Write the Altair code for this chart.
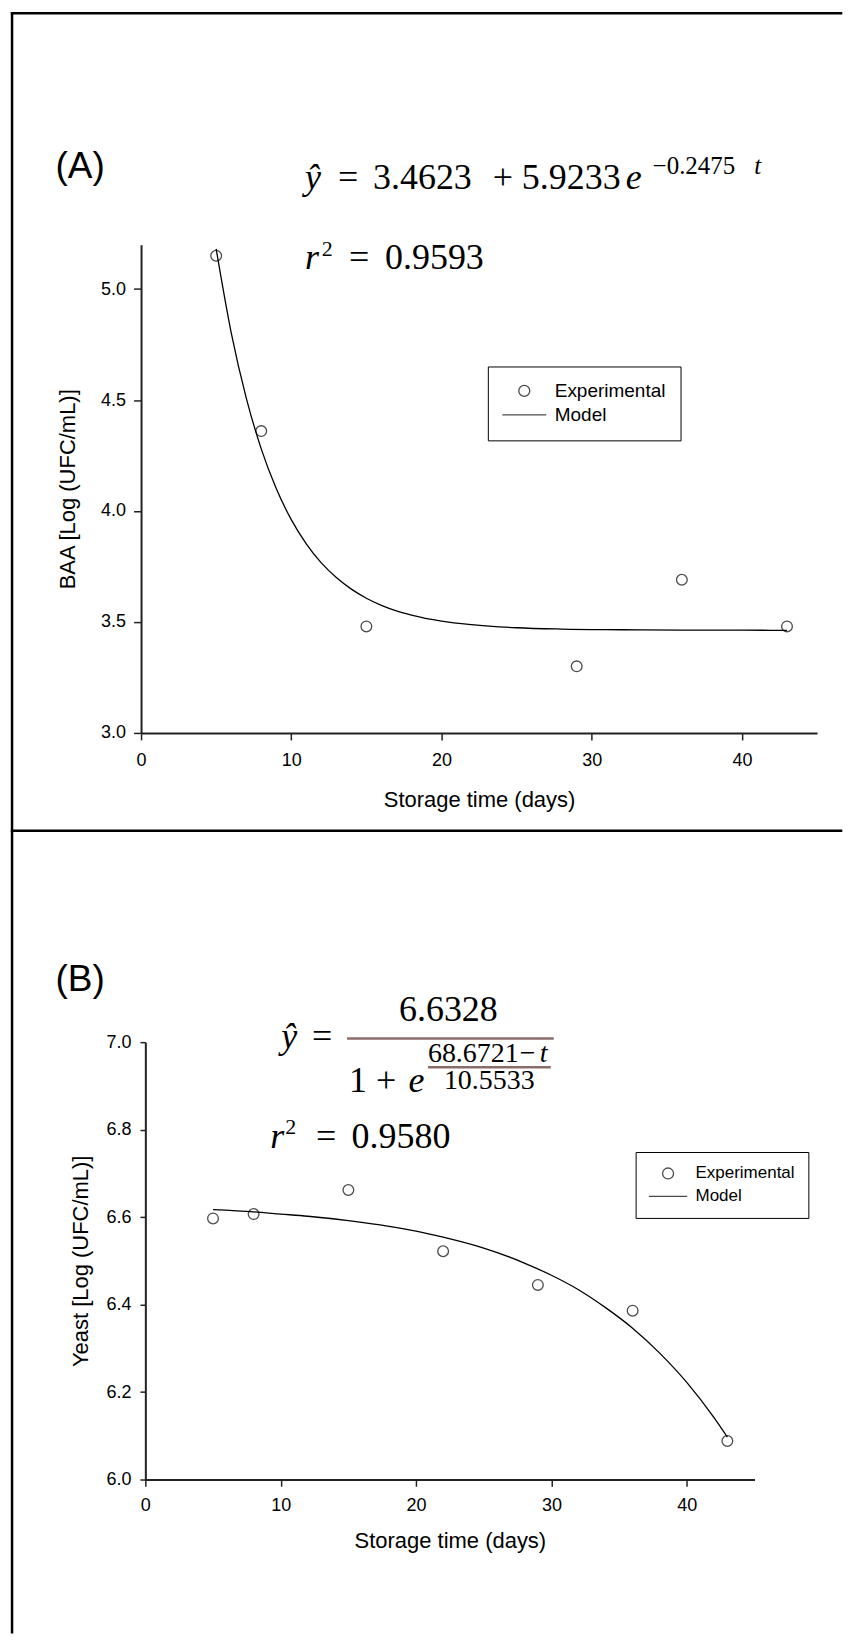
import altair as alt
import pandas as pd

# ---------------- data ----------------
series_names = ["Experimental", "Model"]

# Panel A (BAA)
tA = [5, 8, 15, 29, 36, 43]
vA = [5.15, 4.36, 3.48, 3.30, 3.69, 3.48]
tA_model = [5, 6, 7, 8, 9, 10, 11, 12, 13, 14, 15, 16, 17, 18, 20, 22, 25, 28, 32, 36, 40, 43]
vA_model = [5.181, 4.804, 4.510, 4.280, 4.101, 3.961, 3.852, 3.766, 3.700, 3.648, 3.607,
            3.575, 3.550, 3.531, 3.504, 3.488, 3.474, 3.468, 3.465, 3.463, 3.463, 3.462]

# Panel B (Yeast)
tB = [5, 8, 15, 22, 29, 36, 43]
vB = [6.597, 6.607, 6.662, 6.522, 6.445, 6.386, 6.088]
tB_model = [5, 8, 10, 12, 15, 18, 20, 22, 25, 28, 30, 32, 34, 36, 38, 40, 42, 43]
vB_model = [6.617, 6.612, 6.607, 6.602, 6.592, 6.579, 6.568, 6.554, 6.529, 6.495, 6.467,
            6.434, 6.393, 6.346, 6.289, 6.222, 6.142, 6.097]

x_ticks = [0, 10, 20, 30, 40]
yA_ticks = [3.0, 3.5, 4.0, 4.5, 5.0]
yB_ticks = [6.0, 6.2, 6.4, 6.6, 6.8, 7.0]

dfA = pd.DataFrame({"t": tA, "v": vA, "series": series_names[0]})
dfA_m = pd.DataFrame({"t": tA_model, "v": vA_model})
dfB = pd.DataFrame({"t": tB, "v": vB, "series": series_names[0]})
dfB_m = pd.DataFrame({"t": tB_model, "v": vB_model})

SANS = "Liberation Sans"
SERIF = "Liberation Serif"
BROWN = "#8a6d68"


def one():
    return alt.Data(values=[{}])


def txt(s, x, y, size, font=SERIF, style="normal", color="black"):
    return alt.Chart(one()).mark_text(
        text=s, font=font, fontSize=size, fontStyle=style, align="left",
        baseline="alphabetic", color=color
    ).encode(x=alt.value(x), y=alt.value(y))


def hrule(x1, x2, y, color="black", w=2.5):
    return alt.Chart(one()).mark_rule(color=color, strokeWidth=w).encode(
        x=alt.value(x1), x2=alt.value(x2), y=alt.value(y))


def vrule(x, y1, y2, color="black", w=2.5):
    return alt.Chart(one()).mark_rule(color=color, strokeWidth=w).encode(
        x=alt.value(x), y=alt.value(y1), y2=alt.value(y2))


def axis(values, tick, pad, tpad, fmt=None):
    kw = dict(values=values, tickSize=tick, labelPadding=pad, labelFontSize=18,
              labelFont=SANS, labelColor="black", titleFont=SANS, titleFontSize=22,
              titleFontWeight="normal", titleColor="black", titlePadding=tpad,
              domainColor="#222", domainWidth=2, tickColor="#222", tickWidth=1.5,
              grid=False, labelFlush=False)
    if fmt:
        kw["format"] = fmt
    return alt.Axis(**kw)


def panel(df_pts, df_mod, ydom, ytitle, xax, yax, leg, shape_path):
    xs = alt.Scale(domain=[0, 45], nice=False, zero=False)
    ys = alt.Scale(domain=ydom, nice=False, zero=False)
    line = alt.Chart(df_mod).mark_line(color="black", strokeWidth=1.3, interpolate="monotone").encode(
        x=alt.X("t:Q", scale=xs, axis=xax, title="Storage time (days)"),
        y=alt.Y("v:Q", scale=ys, axis=yax, title=ytitle),
    )
    pts = alt.Chart(df_pts).mark_point(filled=False, color="black", size=115, strokeWidth=1.3).encode(
        x=alt.X("t:Q", scale=xs),
        y=alt.Y("v:Q", scale=ys),
        shape=alt.Shape("series:N", scale=alt.Scale(domain=series_names, range=["circle", shape_path]),
                        legend=leg),
    )
    return line, pts


# ---------------- panel A ----------------
legA = alt.Legend(title=None, orient="none", legendX=347.3, legendY=122, padding=15,
                  strokeColor="black", fillColor="white", labelFont=SANS, labelFontSize=19,
                  labelColor="black", symbolSize=121, symbolStrokeColor="black",
                  symbolFillColor="transparent", symbolStrokeWidth=1.3, symbolOffset=12,
                  labelOffset=21, rowPadding=4)
lineA, ptsA = panel(dfA, dfA_m, [3.0, 5.2], "BAA [Log (UFC/mL)]",
                    axis(x_ticks, 7, 12, 20), axis(yA_ticks, 7.5, 8, 21, ".1f"), legA,
                    "M-4,0H4")

A_layers = [
    # frame
    hrule(-130.4, 702.3, -231.7),
    vrule(-129.2, -232.95, 1391),
    hrule(-130.4, 702.3, 587),
    # labels and equations
    txt("(A)", -85.7, -67, 37, font=SANS),
    txt("ŷ", 164.3, -56, 36, style="italic"),
    txt("=", 197.3, -56, 36),
    txt("3.4623", 232.3, -56, 36),
    txt("+", 352.3, -56, 36),
    txt("5.9233", 381.3, -56, 36),
    txt("e", 485.3, -56, 36, style="italic"),
    txt("−0.2475", 512.3, -71, 25),
    txt("t", 614, -71, 25, style="italic"),
    txt("r", 164.3, 24, 36, style="italic"),
    txt("2", 181, 11, 22),
    txt("=", 208.3, 24, 36),
    txt("0.9593", 244.3, 24, 36),
    lineA, ptsA,
]
chartA = alt.layer(*A_layers).properties(width=677, height=489)

# ---------------- panel B ----------------
legB = alt.Legend(title=None, orient="none", legendX=491, legendY=110, padding=13,
                  strokeColor="black", fillColor="white", labelFont=SANS, labelFontSize=17,
                  labelColor="black", symbolSize=121, symbolStrokeColor="black",
                  symbolFillColor="transparent", symbolStrokeWidth=1.3, symbolOffset=11,
                  labelOffset=19, rowPadding=5)
lineB, ptsB = panel(dfB, dfB_m, [6.0, 7.0], "Yeast [Log (UFC/mL)]",
                    axis(x_ticks, 6.7, 10.5, 16), axis(yB_ticks, 5.4, 9, 14, ".1f"), legB,
                    "M-3.5,0H3.5")

B_layers = [
    txt("(B)", -90, -51.7, 37, font=SANS),
    txt("ŷ", 136, 6.3, 36, style="italic"),
    txt("=", 167, 6.3, 36),
    hrule(202, 409, -3.7, color=BROWN, w=2.5),
    txt("6.6328", 254, -21, 36),
    txt("1 +", 204, 50.3, 36),
    txt("e", 263.6, 50.3, 36, style="italic"),
    txt("68.6721", 283, 20.3, 28),
    txt("−", 375, 20.3, 28),
    txt("t", 395, 20.3, 28, style="italic"),
    hrule(283, 406, 25, color=BROWN, w=2.5),
    txt("10.5533", 299, 47, 28),
    txt("r", 125, 106.3, 36, style="italic"),
    txt("2", 140, 92, 22),
    txt("=", 171, 106.3, 36),
    txt("0.9580", 206.5, 106.3, 36),
    lineB, ptsB,
]
chartB = alt.layer(*B_layers).properties(width=610, height=438)

spacer = alt.Chart(one()).mark_point(opacity=0).properties(width=1, height=1)

rowB = alt.hconcat(spacer, chartB, spacing=3.3, bounds="flush").resolve_scale(shape="independent")

chart = alt.vconcat(chartA, rowB, spacing=309.7, bounds="flush").resolve_scale(
    shape="independent"
).properties(
    padding={"left": 1.25, "top": 0.8, "right": 0, "bottom": 0},
    background="white",
).configure_view(stroke=None, strokeWidth=0)

chart.save("out.html", embed_options={"renderer": "svg", "actions": False})
